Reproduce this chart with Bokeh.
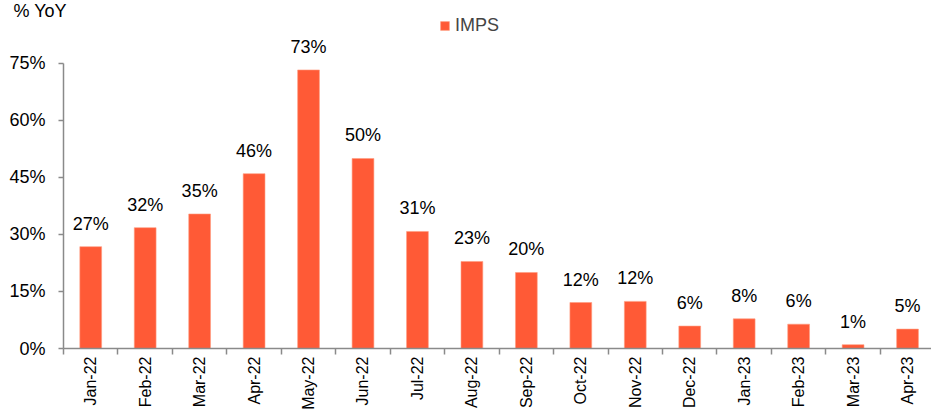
import math
from bokeh.plotting import figure
from bokeh.models import (Range1d, FixedTicker, PrintfTickFormatter, ColumnDataSource,
                          Legend, LegendItem)
from bokeh.core.properties import value
from bokeh.embed import file_html
from bokeh.resources import INLINE

months = ["Jan-22", "Feb-22", "Mar-22", "Apr-22", "May-22", "Jun-22", "Jul-22", "Aug-22",
          "Sep-22", "Oct-22", "Nov-22", "Dec-22", "Jan-23", "Feb-23", "Mar-23", "Apr-23"]
imps = [26.8, 31.8, 35.4, 46.0, 73.3, 50.0, 30.8, 22.9, 20.0, 12.1, 12.4, 5.9, 7.8, 6.4, 1.0, 5.1]
y_ticks = [0, 15, 30, 45, 60, 75]

FONT = "Liberation Sans"
FS = "18px"
BAR = "#FF5A36"
AXIS = "#8A8A8A"

xs = list(range(len(months)))
src = ColumnDataSource(dict(x=xs, v=imps, lab=[f"{round(v)}%" for v in imps]))

p = figure(width=931, height=414, output_backend="svg", toolbar_location=None,
           x_range=Range1d(-0.5, 15.44), y_range=Range1d(0, 86.84),
           min_border_left=63, min_border_right=0, min_border_top=0, min_border_bottom=66)
p.outline_line_color = None
p.xgrid.visible = False
p.ygrid.visible = False

p.title.text = "% YoY"
p.title.align = "left"
p.title.offset = -50
try:
    p.title.standoff = -4
except Exception:
    p.title.standoff = 0
p.title.text_font = FONT
p.title.text_font_size = FS
p.title.text_font_style = "normal"
p.title.text_color = "#000000"

r = p.vbar(x="x", top="v", width=0.4, source=src, fill_color=BAR, line_color="#FF9C80",
           line_width=0.6)
p.text(x="x", y="v", text="lab", source=src, text_align="center", text_baseline="alphabetic",
       y_offset=-23, text_font=value(FONT), text_font_size=FS, text_color="#000000")

# y axis
ya = p.yaxis[0]
ya.ticker = FixedTicker(ticks=y_ticks, minor_ticks=[])
ya.formatter = PrintfTickFormatter(format="%d%%")
ya.bounds = (0, 75)
ya.axis_line_color = AXIS
ya.axis_line_width = 1.5
ya.major_tick_line_color = AXIS
ya.major_tick_line_width = 1.5
ya.major_tick_out = 5
ya.major_tick_in = 0
ya.minor_tick_line_color = None
ya.major_label_standoff = 13
ya.major_label_text_font = FONT
ya.major_label_text_font_size = FS
ya.major_label_text_color = "#000000"

# x axis
xa = p.xaxis[0]
xa.ticker = FixedTicker(ticks=xs, minor_ticks=[i - 0.5 for i in range(len(months) + 1)])
xa.major_label_overrides = {i: m for i, m in enumerate(months)}
xa.axis_line_color = AXIS
xa.axis_line_width = 1.5
xa.major_tick_line_color = None
xa.major_tick_out = 6
xa.major_tick_in = 0
xa.minor_tick_line_color = AXIS
xa.minor_tick_line_width = 1.5
xa.minor_tick_out = 6
xa.minor_tick_in = 0
xa.major_label_orientation = math.pi / 2
xa.major_label_standoff = 2
xa.major_label_text_font = FONT
xa.major_label_text_font_size = "16px"
xa.major_label_text_color = "#000000"

legend = Legend(items=[LegendItem(label="IMPS", renderers=[r])],
                location=(376, 312), orientation="horizontal", padding=0, margin=0,
                border_line_color=None, background_fill_alpha=0,
                glyph_width=11, glyph_height=11, label_standoff=5,
                label_text_font=FONT, label_text_font_size=FS, label_height=17)
p.add_layout(legend, "center")

open("out.html", "w").write(file_html(p, INLINE))
